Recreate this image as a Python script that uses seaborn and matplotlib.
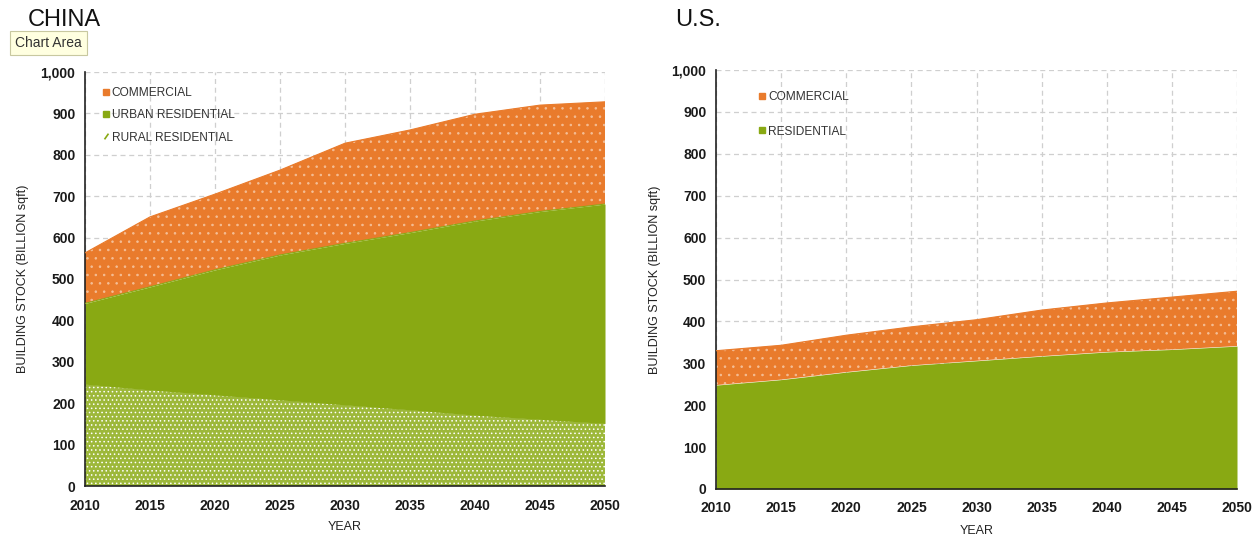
import matplotlib
matplotlib.use("Agg")
import matplotlib.pyplot as plt
from matplotlib.lines import Line2D
import seaborn as sns
import pandas as pd

# ---------------- data ----------------
years = [2010, 2015, 2020, 2025, 2030, 2035, 2040, 2045, 2050]

china_rural = [246, 232, 220, 208, 196, 184, 171, 161, 151]
china_urban = [195, 249, 302, 350, 390, 428, 469, 502, 530]
china_commercial = [122, 169, 183, 205, 242, 248, 258, 257, 247]

us_residential = [248, 261, 279, 295, 306, 317, 327, 333, 341]
us_commercial = [82, 82, 88, 92, 98, 110, 117, 125, 131]

y_ticks = list(range(0, 1001, 100))
x_ticks = years

china_labels = ["COMMERCIAL", "URBAN RESIDENTIAL", "RURAL RESIDENTIAL"]
us_labels = ["COMMERCIAL", "RESIDENTIAL"]

# ---------------- style ----------------
sns.set_theme(style="white")
plt.rcParams["font.family"] = ["Liberation Sans", "DejaVu Sans"]
plt.rcParams["hatch.linewidth"] = 0.6

ORANGE = "#E97B2C"
GREEN = "#89A913"
GRID = "#CFCFCF"
DOT = "#F4BE96"

W, H = 1257, 536
fig = plt.figure(figsize=(W / 100, H / 100), dpi=100)
fig.patch.set_facecolor("white")


def ax_from_px(left, right, top, bottom):
    return fig.add_axes([left / W, 1 - bottom / H, (right - left) / W, (bottom - top) / H])


ax1 = ax_from_px(85, 605, 72, 486)
ax2 = ax_from_px(716, 1237, 70, 489)


def style_axes(ax):
    ax.set_xlim(2010, 2050)
    ax.set_ylim(0, 1000)
    ax.set_xticks(x_ticks)
    ax.set_yticks(y_ticks)
    ax.set_yticklabels([f"{v:,}" for v in y_ticks])
    ax.grid(True, color=GRID, linestyle=(0, (4, 3)), linewidth=0.9)
    ax.set_axisbelow(True)
    for s in ["top", "right"]:
        ax.spines[s].set_visible(False)
    for s in ["left", "bottom"]:
        ax.spines[s].set_color("#222222")
        ax.spines[s].set_linewidth(1.2)
    ax.tick_params(axis="both", which="major", direction="out", length=4, width=1,
                   color="#222222", labelsize=10, pad=3)
    ax.tick_params(axis="x", pad=5)
    for lab in ax.get_xticklabels() + ax.get_yticklabels():
        lab.set_fontweight("bold")
        lab.set_color("#1a1a1a")
    ax.set_ylabel("BUILDING STOCK (BILLION sqft)", fontsize=9, color="#222222")
    ax.set_xlabel("YEAR", fontsize=9, color="#222222")


# ---------------- China ----------------
df_c = pd.DataFrame({"year": years, "rural": china_rural, "urban": china_urban,
                     "commercial": china_commercial})
df_c["r_top"] = df_c["rural"]
df_c["u_top"] = df_c["r_top"] + df_c["urban"]
df_c["c_top"] = df_c["u_top"] + df_c["commercial"]

ax1.fill_between(df_c["year"], 0, df_c["r_top"], facecolor="#9DB83A", edgecolor="white",
                 hatch="....", linewidth=0, zorder=2)
ax1.fill_between(df_c["year"], df_c["r_top"], df_c["u_top"], facecolor=GREEN,
                 edgecolor=GREEN, linewidth=0, zorder=2)
ax1.fill_between(df_c["year"], df_c["u_top"], df_c["c_top"], facecolor=ORANGE,
                 edgecolor=DOT, hatch="..", linewidth=0, zorder=2)
sns.lineplot(data=df_c, x="year", y="c_top", ax=ax1, color=ORANGE, linewidth=0.8, zorder=3)
sns.lineplot(data=df_c, x="year", y="u_top", ax=ax1, color=GREEN, linewidth=0.8, zorder=3)
style_axes(ax1)
ax1.yaxis.set_label_coords(-0.107, 0.5)
ax1.xaxis.set_label_coords(0.5, -0.085)

h1 = [Line2D([], [], linestyle="none", marker="s", markersize=4, color=ORANGE),
      Line2D([], [], linestyle="none", marker="s", markersize=4, color=GREEN),
      Line2D([], [], linestyle="none", marker=(2, 0, -35), markersize=5,
             markeredgewidth=1.2, color=GREEN)]
ax1.legend(h1, china_labels, loc="upper left", bbox_to_anchor=(0.033, 0.963),
           frameon=False, fontsize=8.6, handlelength=0.6, handletextpad=0.2,
           labelspacing=0.85, borderpad=0, borderaxespad=0, labelcolor="#333333")

# ---------------- U.S. ----------------
df_u = pd.DataFrame({"year": years, "res": us_residential, "com": us_commercial})
df_u["r_top"] = df_u["res"]
df_u["c_top"] = df_u["r_top"] + df_u["com"]

ax2.fill_between(df_u["year"], 0, df_u["r_top"], facecolor=GREEN, edgecolor=GREEN,
                 linewidth=0, zorder=2)
ax2.fill_between(df_u["year"], df_u["r_top"], df_u["c_top"], facecolor=ORANGE,
                 edgecolor=DOT, hatch="..", linewidth=0, zorder=2)
sns.lineplot(data=df_u, x="year", y="c_top", ax=ax2, color=ORANGE, linewidth=0.8, zorder=3)
style_axes(ax2)
ax2.yaxis.set_label_coords(-0.105, 0.5)
ax2.xaxis.set_label_coords(0.5, -0.085)

h2 = [Line2D([], [], linestyle="none", marker="s", markersize=4, color=ORANGE),
      Line2D([], [], linestyle="none", marker="s", markersize=4, color=GREEN)]
ax2.legend(h2, us_labels, loc="upper left", bbox_to_anchor=(0.082, 0.95),
           frameon=False, fontsize=8.6, handlelength=0.6, handletextpad=0.2,
           labelspacing=1.9, borderpad=0, borderaxespad=0, labelcolor="#333333")

# ---------------- titles & tooltip ----------------
fig.text(28 / W, 1 - 20 / H, "CHINA", fontsize=17, va="center", ha="left", color="#111111")
fig.text(675 / W, 1 - 20 / H, "U.S.", fontsize=17, va="center", ha="left", color="#111111")
fig.text(15 / W, 1 - 43 / H, "Chart Area", fontsize=10, va="center", ha="left",
         color="#333333",
         bbox=dict(boxstyle="square,pad=0.35", facecolor="#FFFFE0", edgecolor="#C8C8A0",
                   linewidth=0.8))

fig.savefig("out.png", dpi=100, facecolor="white")
